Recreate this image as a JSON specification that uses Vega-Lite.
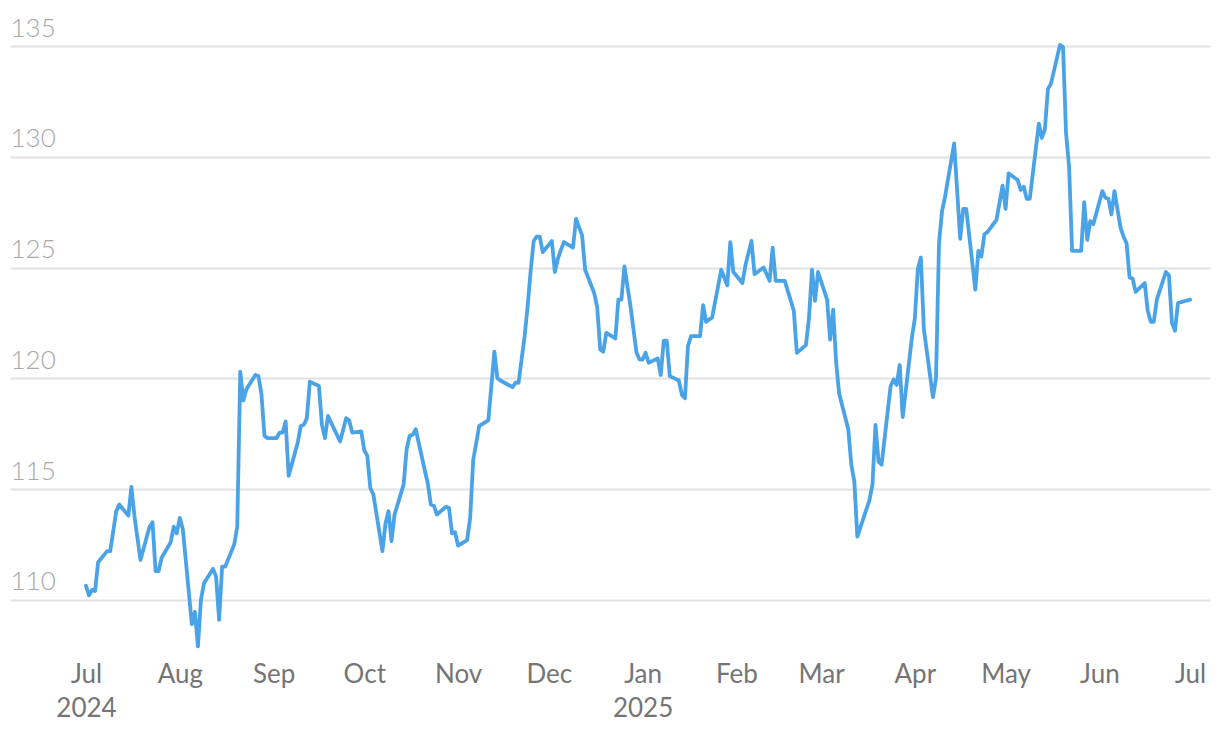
{
  "$schema": "https://vega.github.io/schema/vega-lite/v6.json",
  "width": 1200,
  "height": 638,
  "autosize": {"type": "none"},
  "padding": {"left": 10, "top": 15, "right": 10, "bottom": 83},
  "background": "white",
  "config": {
    "view": {"stroke": null},
    "font": "Lato"
  },
  "data": {
    "values": [
      {"date": "2024-07-01", "value": 110.63},
      {"date": "2024-07-02", "value": 110.2},
      {"date": "2024-07-03", "value": 110.45},
      {"date": "2024-07-04", "value": 110.4},
      {"date": "2024-07-05", "value": 111.7},
      {"date": "2024-07-08", "value": 112.2},
      {"date": "2024-07-09", "value": 112.2},
      {"date": "2024-07-11", "value": 114.0},
      {"date": "2024-07-12", "value": 114.3},
      {"date": "2024-07-15", "value": 113.8},
      {"date": "2024-07-16", "value": 115.1},
      {"date": "2024-07-17", "value": 113.8},
      {"date": "2024-07-19", "value": 111.8},
      {"date": "2024-07-22", "value": 113.3},
      {"date": "2024-07-23", "value": 113.5},
      {"date": "2024-07-24", "value": 111.3},
      {"date": "2024-07-25", "value": 111.3},
      {"date": "2024-07-26", "value": 111.9},
      {"date": "2024-07-29", "value": 112.6},
      {"date": "2024-07-30", "value": 113.3},
      {"date": "2024-07-31", "value": 113.0},
      {"date": "2024-08-01", "value": 113.7},
      {"date": "2024-08-02", "value": 113.2},
      {"date": "2024-08-05", "value": 108.9},
      {"date": "2024-08-06", "value": 109.45},
      {"date": "2024-08-07", "value": 107.9},
      {"date": "2024-08-08", "value": 110.0},
      {"date": "2024-08-09", "value": 110.75},
      {"date": "2024-08-12", "value": 111.4},
      {"date": "2024-08-13", "value": 111.05},
      {"date": "2024-08-14", "value": 109.1},
      {"date": "2024-08-15", "value": 111.5},
      {"date": "2024-08-16", "value": 111.5},
      {"date": "2024-08-19", "value": 112.5},
      {"date": "2024-08-20", "value": 113.3},
      {"date": "2024-08-21", "value": 120.3},
      {"date": "2024-08-22", "value": 119.0},
      {"date": "2024-08-23", "value": 119.5},
      {"date": "2024-08-26", "value": 120.15},
      {"date": "2024-08-27", "value": 120.1},
      {"date": "2024-08-28", "value": 119.3},
      {"date": "2024-08-29", "value": 117.4},
      {"date": "2024-08-30", "value": 117.3},
      {"date": "2024-09-02", "value": 117.3},
      {"date": "2024-09-03", "value": 117.55},
      {"date": "2024-09-04", "value": 117.55},
      {"date": "2024-09-05", "value": 118.05},
      {"date": "2024-09-06", "value": 115.6},
      {"date": "2024-09-09", "value": 117.1},
      {"date": "2024-09-10", "value": 117.85},
      {"date": "2024-09-11", "value": 117.9},
      {"date": "2024-09-12", "value": 118.2},
      {"date": "2024-09-13", "value": 119.85},
      {"date": "2024-09-16", "value": 119.65},
      {"date": "2024-09-17", "value": 117.9},
      {"date": "2024-09-18", "value": 117.3},
      {"date": "2024-09-19", "value": 118.3},
      {"date": "2024-09-23", "value": 117.15},
      {"date": "2024-09-25", "value": 118.2},
      {"date": "2024-09-26", "value": 118.1},
      {"date": "2024-09-27", "value": 117.55},
      {"date": "2024-09-30", "value": 117.6},
      {"date": "2024-10-01", "value": 116.75},
      {"date": "2024-10-02", "value": 116.5},
      {"date": "2024-10-03", "value": 115.05},
      {"date": "2024-10-04", "value": 114.75},
      {"date": "2024-10-07", "value": 112.2},
      {"date": "2024-10-08", "value": 113.45},
      {"date": "2024-10-09", "value": 114.0},
      {"date": "2024-10-10", "value": 112.65},
      {"date": "2024-10-11", "value": 113.85},
      {"date": "2024-10-14", "value": 115.2},
      {"date": "2024-10-15", "value": 116.8},
      {"date": "2024-10-16", "value": 117.4},
      {"date": "2024-10-17", "value": 117.45},
      {"date": "2024-10-18", "value": 117.7},
      {"date": "2024-10-21", "value": 115.85},
      {"date": "2024-10-22", "value": 115.25},
      {"date": "2024-10-23", "value": 114.3},
      {"date": "2024-10-24", "value": 114.25},
      {"date": "2024-10-25", "value": 113.85},
      {"date": "2024-10-28", "value": 114.2},
      {"date": "2024-10-29", "value": 114.15},
      {"date": "2024-10-30", "value": 113.0},
      {"date": "2024-10-31", "value": 113.05},
      {"date": "2024-11-01", "value": 112.45},
      {"date": "2024-11-04", "value": 112.7},
      {"date": "2024-11-05", "value": 113.7},
      {"date": "2024-11-06", "value": 116.3},
      {"date": "2024-11-08", "value": 117.85},
      {"date": "2024-11-11", "value": 118.1},
      {"date": "2024-11-13", "value": 121.2},
      {"date": "2024-11-14", "value": 120.0},
      {"date": "2024-11-15", "value": 119.9},
      {"date": "2024-11-19", "value": 119.6},
      {"date": "2024-11-20", "value": 119.8},
      {"date": "2024-11-21", "value": 119.8},
      {"date": "2024-11-23", "value": 121.9},
      {"date": "2024-11-24", "value": 123.25},
      {"date": "2024-11-25", "value": 124.85},
      {"date": "2024-11-26", "value": 126.2},
      {"date": "2024-11-27", "value": 126.4},
      {"date": "2024-11-28", "value": 126.4},
      {"date": "2024-11-29", "value": 125.7},
      {"date": "2024-12-02", "value": 126.2},
      {"date": "2024-12-03", "value": 124.8},
      {"date": "2024-12-04", "value": 125.4},
      {"date": "2024-12-05", "value": 125.8},
      {"date": "2024-12-06", "value": 126.15},
      {"date": "2024-12-09", "value": 125.9},
      {"date": "2024-12-10", "value": 127.2},
      {"date": "2024-12-12", "value": 126.45},
      {"date": "2024-12-13", "value": 124.9},
      {"date": "2024-12-16", "value": 123.85},
      {"date": "2024-12-17", "value": 123.2},
      {"date": "2024-12-18", "value": 121.3},
      {"date": "2024-12-19", "value": 121.2},
      {"date": "2024-12-20", "value": 122.05},
      {"date": "2024-12-23", "value": 121.8},
      {"date": "2024-12-24", "value": 123.55},
      {"date": "2024-12-25", "value": 123.55},
      {"date": "2024-12-26", "value": 125.05},
      {"date": "2024-12-28", "value": 123.25},
      {"date": "2024-12-30", "value": 121.15},
      {"date": "2024-12-31", "value": 120.85},
      {"date": "2025-01-01", "value": 120.85},
      {"date": "2025-01-02", "value": 121.15},
      {"date": "2025-01-03", "value": 120.7},
      {"date": "2025-01-06", "value": 120.9},
      {"date": "2025-01-07", "value": 120.15},
      {"date": "2025-01-08", "value": 121.7},
      {"date": "2025-01-09", "value": 121.7},
      {"date": "2025-01-10", "value": 120.1},
      {"date": "2025-01-13", "value": 119.9},
      {"date": "2025-01-14", "value": 119.25},
      {"date": "2025-01-15", "value": 119.1},
      {"date": "2025-01-16", "value": 121.45},
      {"date": "2025-01-17", "value": 121.9},
      {"date": "2025-01-20", "value": 121.9},
      {"date": "2025-01-21", "value": 123.3},
      {"date": "2025-01-22", "value": 122.55},
      {"date": "2025-01-24", "value": 122.75},
      {"date": "2025-01-27", "value": 124.9},
      {"date": "2025-01-29", "value": 124.2},
      {"date": "2025-01-30", "value": 126.15},
      {"date": "2025-01-31", "value": 124.8},
      {"date": "2025-02-03", "value": 124.3},
      {"date": "2025-02-04", "value": 125.1},
      {"date": "2025-02-06", "value": 126.2},
      {"date": "2025-02-07", "value": 124.7},
      {"date": "2025-02-10", "value": 125.0},
      {"date": "2025-02-12", "value": 124.4},
      {"date": "2025-02-13", "value": 125.9},
      {"date": "2025-02-14", "value": 124.4},
      {"date": "2025-02-17", "value": 124.4},
      {"date": "2025-02-20", "value": 123.05},
      {"date": "2025-02-21", "value": 121.15},
      {"date": "2025-02-24", "value": 121.5},
      {"date": "2025-02-25", "value": 122.7},
      {"date": "2025-02-26", "value": 124.9},
      {"date": "2025-02-27", "value": 123.5},
      {"date": "2025-02-28", "value": 124.8},
      {"date": "2025-03-03", "value": 123.55},
      {"date": "2025-03-04", "value": 121.75},
      {"date": "2025-03-05", "value": 123.1},
      {"date": "2025-03-06", "value": 120.7},
      {"date": "2025-03-07", "value": 119.3},
      {"date": "2025-03-10", "value": 117.7},
      {"date": "2025-03-11", "value": 116.1},
      {"date": "2025-03-12", "value": 115.35},
      {"date": "2025-03-13", "value": 112.85},
      {"date": "2025-03-17", "value": 114.5},
      {"date": "2025-03-18", "value": 115.2},
      {"date": "2025-03-19", "value": 117.9},
      {"date": "2025-03-20", "value": 116.25},
      {"date": "2025-03-21", "value": 116.1},
      {"date": "2025-03-24", "value": 119.65},
      {"date": "2025-03-25", "value": 119.95},
      {"date": "2025-03-26", "value": 119.7},
      {"date": "2025-03-27", "value": 120.6},
      {"date": "2025-03-28", "value": 118.25},
      {"date": "2025-03-31", "value": 121.8},
      {"date": "2025-04-01", "value": 122.7},
      {"date": "2025-04-02", "value": 124.95},
      {"date": "2025-04-03", "value": 125.45},
      {"date": "2025-04-04", "value": 122.2},
      {"date": "2025-04-07", "value": 119.15},
      {"date": "2025-04-08", "value": 120.0},
      {"date": "2025-04-09", "value": 126.1},
      {"date": "2025-04-10", "value": 127.55},
      {"date": "2025-04-11", "value": 128.2},
      {"date": "2025-04-14", "value": 130.6},
      {"date": "2025-04-16", "value": 126.3},
      {"date": "2025-04-17", "value": 127.65},
      {"date": "2025-04-18", "value": 127.65},
      {"date": "2025-04-21", "value": 124.0},
      {"date": "2025-04-22", "value": 125.75},
      {"date": "2025-04-23", "value": 125.5},
      {"date": "2025-04-24", "value": 126.5},
      {"date": "2025-04-25", "value": 126.6},
      {"date": "2025-04-28", "value": 127.15},
      {"date": "2025-04-30", "value": 128.7},
      {"date": "2025-05-01", "value": 127.65},
      {"date": "2025-05-02", "value": 129.25},
      {"date": "2025-05-05", "value": 128.95},
      {"date": "2025-05-06", "value": 128.5},
      {"date": "2025-05-07", "value": 128.65},
      {"date": "2025-05-08", "value": 128.1},
      {"date": "2025-05-09", "value": 128.1},
      {"date": "2025-05-12", "value": 131.5},
      {"date": "2025-05-13", "value": 130.85},
      {"date": "2025-05-14", "value": 131.25},
      {"date": "2025-05-15", "value": 133.05},
      {"date": "2025-05-16", "value": 133.3},
      {"date": "2025-05-19", "value": 135.05},
      {"date": "2025-05-20", "value": 134.95},
      {"date": "2025-05-21", "value": 131.05},
      {"date": "2025-05-22", "value": 129.55},
      {"date": "2025-05-23", "value": 125.75},
      {"date": "2025-05-26", "value": 125.75},
      {"date": "2025-05-27", "value": 127.95},
      {"date": "2025-05-28", "value": 126.25},
      {"date": "2025-05-29", "value": 127.1},
      {"date": "2025-05-30", "value": 126.95},
      {"date": "2025-06-02", "value": 128.45},
      {"date": "2025-06-03", "value": 128.15},
      {"date": "2025-06-04", "value": 128.1},
      {"date": "2025-06-05", "value": 127.4},
      {"date": "2025-06-06", "value": 128.45},
      {"date": "2025-06-08", "value": 126.8},
      {"date": "2025-06-09", "value": 126.4},
      {"date": "2025-06-10", "value": 126.1},
      {"date": "2025-06-11", "value": 124.55},
      {"date": "2025-06-12", "value": 124.5},
      {"date": "2025-06-13", "value": 123.9},
      {"date": "2025-06-16", "value": 124.3},
      {"date": "2025-06-17", "value": 123.05},
      {"date": "2025-06-18", "value": 122.55},
      {"date": "2025-06-19", "value": 122.55},
      {"date": "2025-06-20", "value": 123.55},
      {"date": "2025-06-23", "value": 124.8},
      {"date": "2025-06-24", "value": 124.65},
      {"date": "2025-06-25", "value": 122.5},
      {"date": "2025-06-26", "value": 122.15},
      {"date": "2025-06-27", "value": 123.4},
      {"date": "2025-07-01", "value": 123.55}
    ]
  },
  "mark": {"type": "line", "color": "#4aa3e6", "strokeWidth": 3.8, "strokeJoin": "round", "strokeCap": "round"},
  "encoding": {
    "x": {
      "field": "date",
      "type": "temporal",
      "scale": {
        "type": "utc",
        "domain": [
          {"year": 2024, "month": 6, "date": 5, "hours": 21, "utc": true},
          {"year": 2025, "month": 7, "date": 7, "hours": 14, "utc": true}
        ]
      },
      "axis": {
        "title": null,
        "grid": false,
        "domain": false,
        "ticks": false,
        "tickSize": 0,
        "tickCount": {"interval": "month", "step": 1},
        "labelExpr": "(utcmonth(datum.value) == 0 || (utcmonth(datum.value) == 6 && utcyear(datum.value) == 2024)) ? [utcFormat(datum.value, '%b'), utcFormat(datum.value, '%Y')] : utcFormat(datum.value, '%b')",
        "labelFont": "Lato",
        "labelFontSize": 26,
        "labelColor": "#757575",
        "labelPadding": 8,
        "labelLineHeight": 34,
        "labelFlush": false,
        "labelOverlap": false,
        "labelBaseline": "top"
      }
    },
    "y": {
      "field": "value",
      "type": "quantitative",
      "scale": {"domain": [107.6, 136.4], "nice": false, "zero": false},
      "axis": {
        "title": null,
        "values": [110, 115, 120, 125, 130, 135],
        "grid": true,
        "gridColor": "#e2e2e2",
        "gridWidth": 2,
        "domain": false,
        "ticks": false,
        "tickSize": 0,
        "labelAlign": "left",
        "labelBaseline": "alphabetic",
        "labelPadding": 0,
        "labelOffset": -10,
        "labelFont": "Lato",
        "labelFontSize": 26,
        "labelFontWeight": 300,
        "labelColor": "#a8a8a8"
      }
    }
  }
}
